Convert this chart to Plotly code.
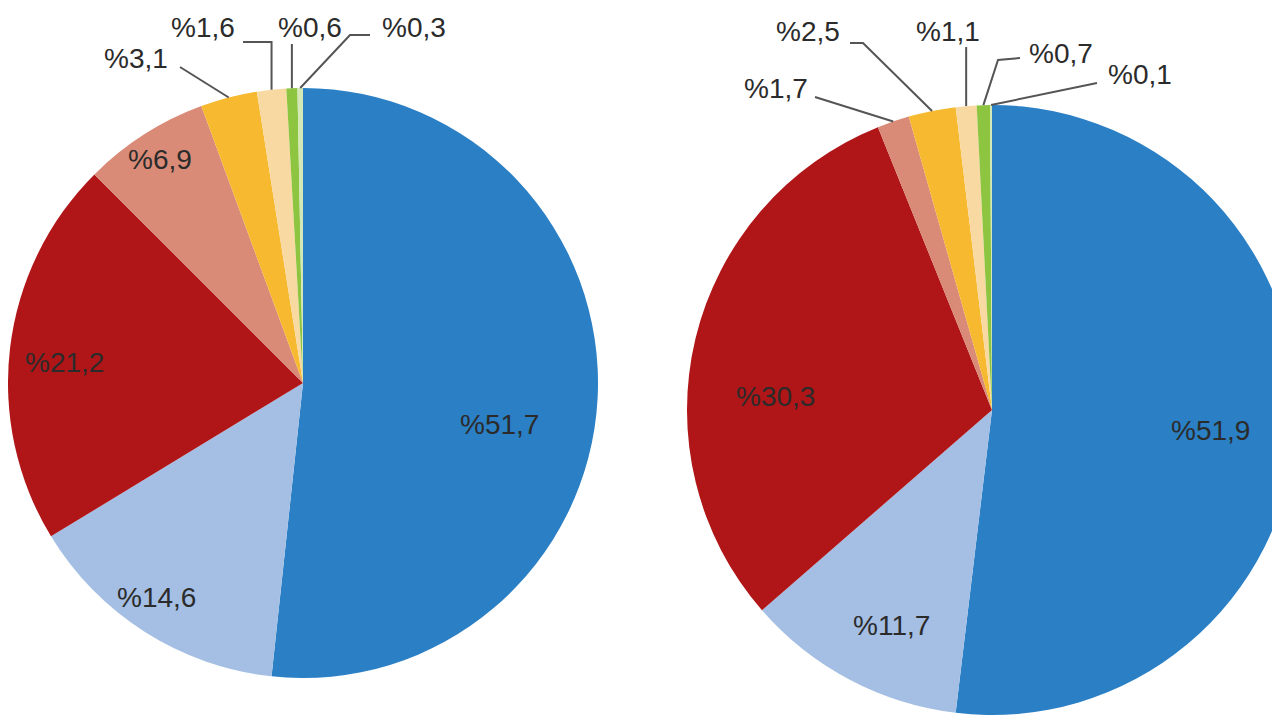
import math
import plotly.graph_objects as go

# ---------------- data ----------------
categories = ["Dilim 1", "Dilim 2", "Dilim 3", "Dilim 4", "Dilim 5", "Dilim 6", "Dilim 7", "Dilim 8"]
left_values = [51.7, 14.6, 21.2, 6.9, 3.1, 1.6, 0.6, 0.3]
right_values = [51.9, 11.7, 30.3, 1.7, 2.5, 1.1, 0.7, 0.1]

# ---------------- style ----------------
colors = ["#2A7FC5", "#A4BFE3", "#B01517", "#D98B77", "#F6B92F", "#F9D9A2", "#8DC540", "#D3E8B6"]
W, H = 1300, 712          # figure a bit wider than the window: the right pie is cropped like the reference
PAGE = 8                  # default page margin of the html body (screen = figure + PAGE)
FONT = "Liberation Sans, Arial, sans-serif"
TEXT_COLOR = "#2b2b2b"
LINE_COLOR = "#555555"
FS = 28

# pie geometry in screen pixels (centre x, centre y, radius) and label layout (screen pixels)
pies = [
    dict(
        values=left_values, cx=PAGE + 295, cy=383, r=295, shift=10,
        inside={0: (9, 0.68), 1: (2, 0.88), 2: (-2, 0.81), 3: (0, 0.9)},
        outside={
            4: dict(text=(160, 58), anchor="right", via=[(170, 67)]),
            5: dict(text=(193, 27), anchor="center", via=[(233, 42), (None, 42)]),
            6: dict(text=(18, 27), rel=True, anchor="center", via=[(None, 44)]),
            7: dict(text=(370, 27), anchor="left", via=[(360, 35), (340, 35)]),
        },
    ),
    dict(
        values=right_values, cx=992, cy=410, r=305, shift=0,
        inside={0: (2, 0.72), 1: (-3, 0.78), 2: (-10, 0.71)},
        outside={
            3: dict(text=(810, 88), anchor="right", via=[(815, 97)]),
            4: dict(text=(808, 31), anchor="center", via=[(850, 43), (863, 43)]),
            5: dict(text=(-18, 31), rel=True, anchor="center", via=[(None, 47)]),
            6: dict(text=(1027, 54), anchor="left", via=[(1020, 58), (998, 60)]),
            7: dict(text=(1140, 74), anchor="center", via=[(1097, 83)]),
        },
    ),
]


def px(x):
    return (x - PAGE) / W


def py(y):
    return 1 - (y - PAGE) / H


def fmt(v):
    return "%" + f"{v:.1f}".replace(".", ",")


fig = go.Figure()
annotations = []
shapes = []

for p in pies:
    cx, cy, r = p["cx"], p["cy"], p["r"]
    fig.add_trace(go.Pie(
        labels=categories,
        values=p["values"],
        sort=False,
        direction="clockwise",
        rotation=0,
        marker=dict(colors=colors, line=dict(width=0)),
        textinfo="none",
        hovertemplate="%{label}: %{value}<extra></extra>",
        domain=dict(x=[max(0, px(cx - r)), min(1, px(cx + r))],
                    y=[max(0, py(cy + r)), min(1, py(cy - r))]),
        showlegend=False,
    ))

    total = sum(p["values"])
    cum = 0.0
    for i, v in enumerate(p["values"]):
        mid = (cum + v / 2) / total * 360.0
        cum += v
        if i in p["inside"]:
            nudge, frac = p["inside"][i]
            a = math.radians(mid + nudge)
            x = cx + frac * r * math.sin(a)
            y = cy - frac * r * math.cos(a)
            annotations.append(dict(
                x=px(x), y=py(y), xref="paper", yref="paper", text=fmt(v),
                showarrow=False, xanchor="center", yanchor="middle",
                font=dict(family=FONT, size=FS, color=TEXT_COLOR)))
        elif i in p["outside"]:
            spec = p["outside"][i]
            a = math.radians(mid)
            tx = cx + r * math.sin(a)
            ty = cy - r * math.cos(a)
            pts = []
            for vx, vy in spec["via"]:
                pts.append((tx if vx is None else vx + p["shift"], vy))
            pts.append((tx, ty))
            path = "M " + " L ".join(f"{px(x):.5f},{py(y):.5f}" for x, y in pts)
            shapes.append(dict(type="path", xref="paper", yref="paper", path=path,
                               line=dict(color=LINE_COLOR, width=2), layer="above"))
            lx, ly = spec["text"]
            lx = tx + lx if spec.get("rel") else lx + p["shift"]
            annotations.append(dict(
                x=px(lx), y=py(ly), xref="paper", yref="paper", text=fmt(v),
                showarrow=False, xanchor=spec["anchor"], yanchor="middle",
                font=dict(family=FONT, size=FS, color=TEXT_COLOR)))

fig.update_layout(
    width=W, height=H,
    margin=dict(l=0, r=0, t=0, b=0),
    paper_bgcolor="white",
    plot_bgcolor="white",
    showlegend=False,
    annotations=annotations,
    shapes=shapes,
)

fig.write_html("out.html")
